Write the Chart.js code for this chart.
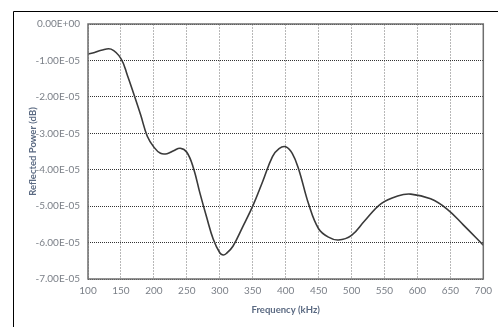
<!DOCTYPE html>
<html>
<head>
<meta charset="utf-8">
<script src="https://cdn.jsdelivr.net/npm/chart.js@4"></script>
<style>
  html, body { margin: 0; padding: 0; background: #fff; }
  #wrap { width: 498px; height: 327px; }
</style>
</head>
<body>
<div id="wrap"><canvas id="chart"></canvas></div>
<script>
// frequency in kHz, reflected power in dB
const frequency = [100, 110, 120, 135, 150, 160, 170, 180, 190, 200, 210, 220, 230, 240, 250,
    260, 270, 280, 290, 300, 305, 310, 320, 335, 350, 365, 380, 390, 400, 410, 420, 435, 450,
    465, 480, 500, 520, 545, 570, 590, 620, 645, 670, 700];
const power = [-0.83e-5, -0.78e-5, -0.72e-5, -0.69e-5, -0.95e-5, -1.42e-5, -1.95e-5, -2.5e-5,
    -3.08e-5, -3.38e-5, -3.55e-5, -3.56e-5, -3.48e-5, -3.41e-5, -3.52e-5, -3.95e-5, -4.65e-5,
    -5.3e-5, -5.9e-5, -6.28e-5, -6.34e-5, -6.3e-5, -6.1e-5, -5.56e-5, -5.0e-5, -4.33e-5,
    -3.64e-5, -3.42e-5, -3.37e-5, -3.55e-5, -4.0e-5, -4.95e-5, -5.62e-5, -5.85e-5, -5.93e-5,
    -5.8e-5, -5.4e-5, -4.93e-5, -4.72e-5, -4.67e-5, -4.8e-5, -5.08e-5, -5.52e-5, -6.07e-5];

const xMin = 100, xMax = 700, xStep = 50;
const yMin = -7e-5, yMax = 0, yStep = 1e-5;

function excelSci(v) {
    const parts = v.toExponential(2).split('e');
    let exp = parseInt(parts[1], 10);
    const sign = exp < 0 ? '-' : '+';
    exp = Math.abs(exp);
    return parts[0] + 'E' + sign + (exp < 10 ? '0' + exp : exp);
}

const frame = {
    id: 'frame',
    beforeDraw(chart) {
        const ctx = chart.ctx;
        ctx.save();
        ctx.strokeStyle = '#000';
        ctx.lineWidth = 1;
        ctx.beginPath();
        ctx.moveTo(13.5, 340);
        ctx.lineTo(13.5, 11.5);
        ctx.lineTo(510, 11.5);
        ctx.stroke();
        ctx.restore();
    },
    afterDatasetsDraw(chart) {
        const a = chart.chartArea;
        const ctx = chart.ctx;
        ctx.save();
        ctx.strokeStyle = '#6e6e6e';
        ctx.lineWidth = 1.5;
        ctx.strokeRect(a.left, a.top, a.right - a.left, a.bottom - a.top);
        ctx.restore();
    }
};

const tickColor = '#7a7f87';
const titleColor = '#5b6a82';

new Chart(document.getElementById('chart').getContext('2d'), {
    type: 'line',
    data: {
        datasets: [{
            data: frequency.map((f, i) => ({ x: f, y: power[i] })),
            borderColor: '#3a3a3a',
            borderWidth: 1.6,
            pointRadius: 0,
            tension: 0.4,
            fill: false
        }]
    },
    options: {
        responsive: true,
        maintainAspectRatio: false,
        animation: false,
        layout: { padding: { left: 0, right: 13, top: 24, bottom: 0 } },
        plugins: { legend: { display: false }, tooltip: { enabled: false } },
        scales: {
            x: {
                type: 'linear',
                min: xMin,
                max: xMax,
                afterFit(scale) { scale.height = 48; },
                ticks: {
                    stepSize: xStep,
                    color: tickColor,
                    font: { family: 'Lato', size: 10 },
                    padding: 6,
                    maxRotation: 0
                },
                grid: {
                    color: '#b8b8b8',
                    lineWidth: 1,
                    drawTicks: false
                },
                border: { display: false, dash: [2, 1] },
                title: {
                    display: true,
                    text: 'Frequency (kHz)',
                    color: titleColor,
                    font: { family: 'Lato', size: 9.5, weight: 'bold' },
                    padding: { top: 0, bottom: 11 }
                }
            },
            y: {
                min: yMin,
                max: yMax,
                afterFit(scale) { scale.width = 88; },
                ticks: {
                    stepSize: yStep,
                    color: tickColor,
                    font: { family: 'Lato', size: 10 },
                    padding: 8,
                    callback: v => excelSci(v)
                },
                grid: {
                    color: '#333',
                    lineWidth: 1,
                    drawTicks: false
                },
                border: { display: false, dash: [1, 1] },
                title: {
                    display: true,
                    text: 'Reflected Power (dB)',
                    color: titleColor,
                    font: { family: 'Lato', size: 9.5, weight: 'bold' },
                    padding: { top: 27, bottom: 0 }
                }
            }
        }
    },
    plugins: [frame]
});
</script>
</body>
</html>
